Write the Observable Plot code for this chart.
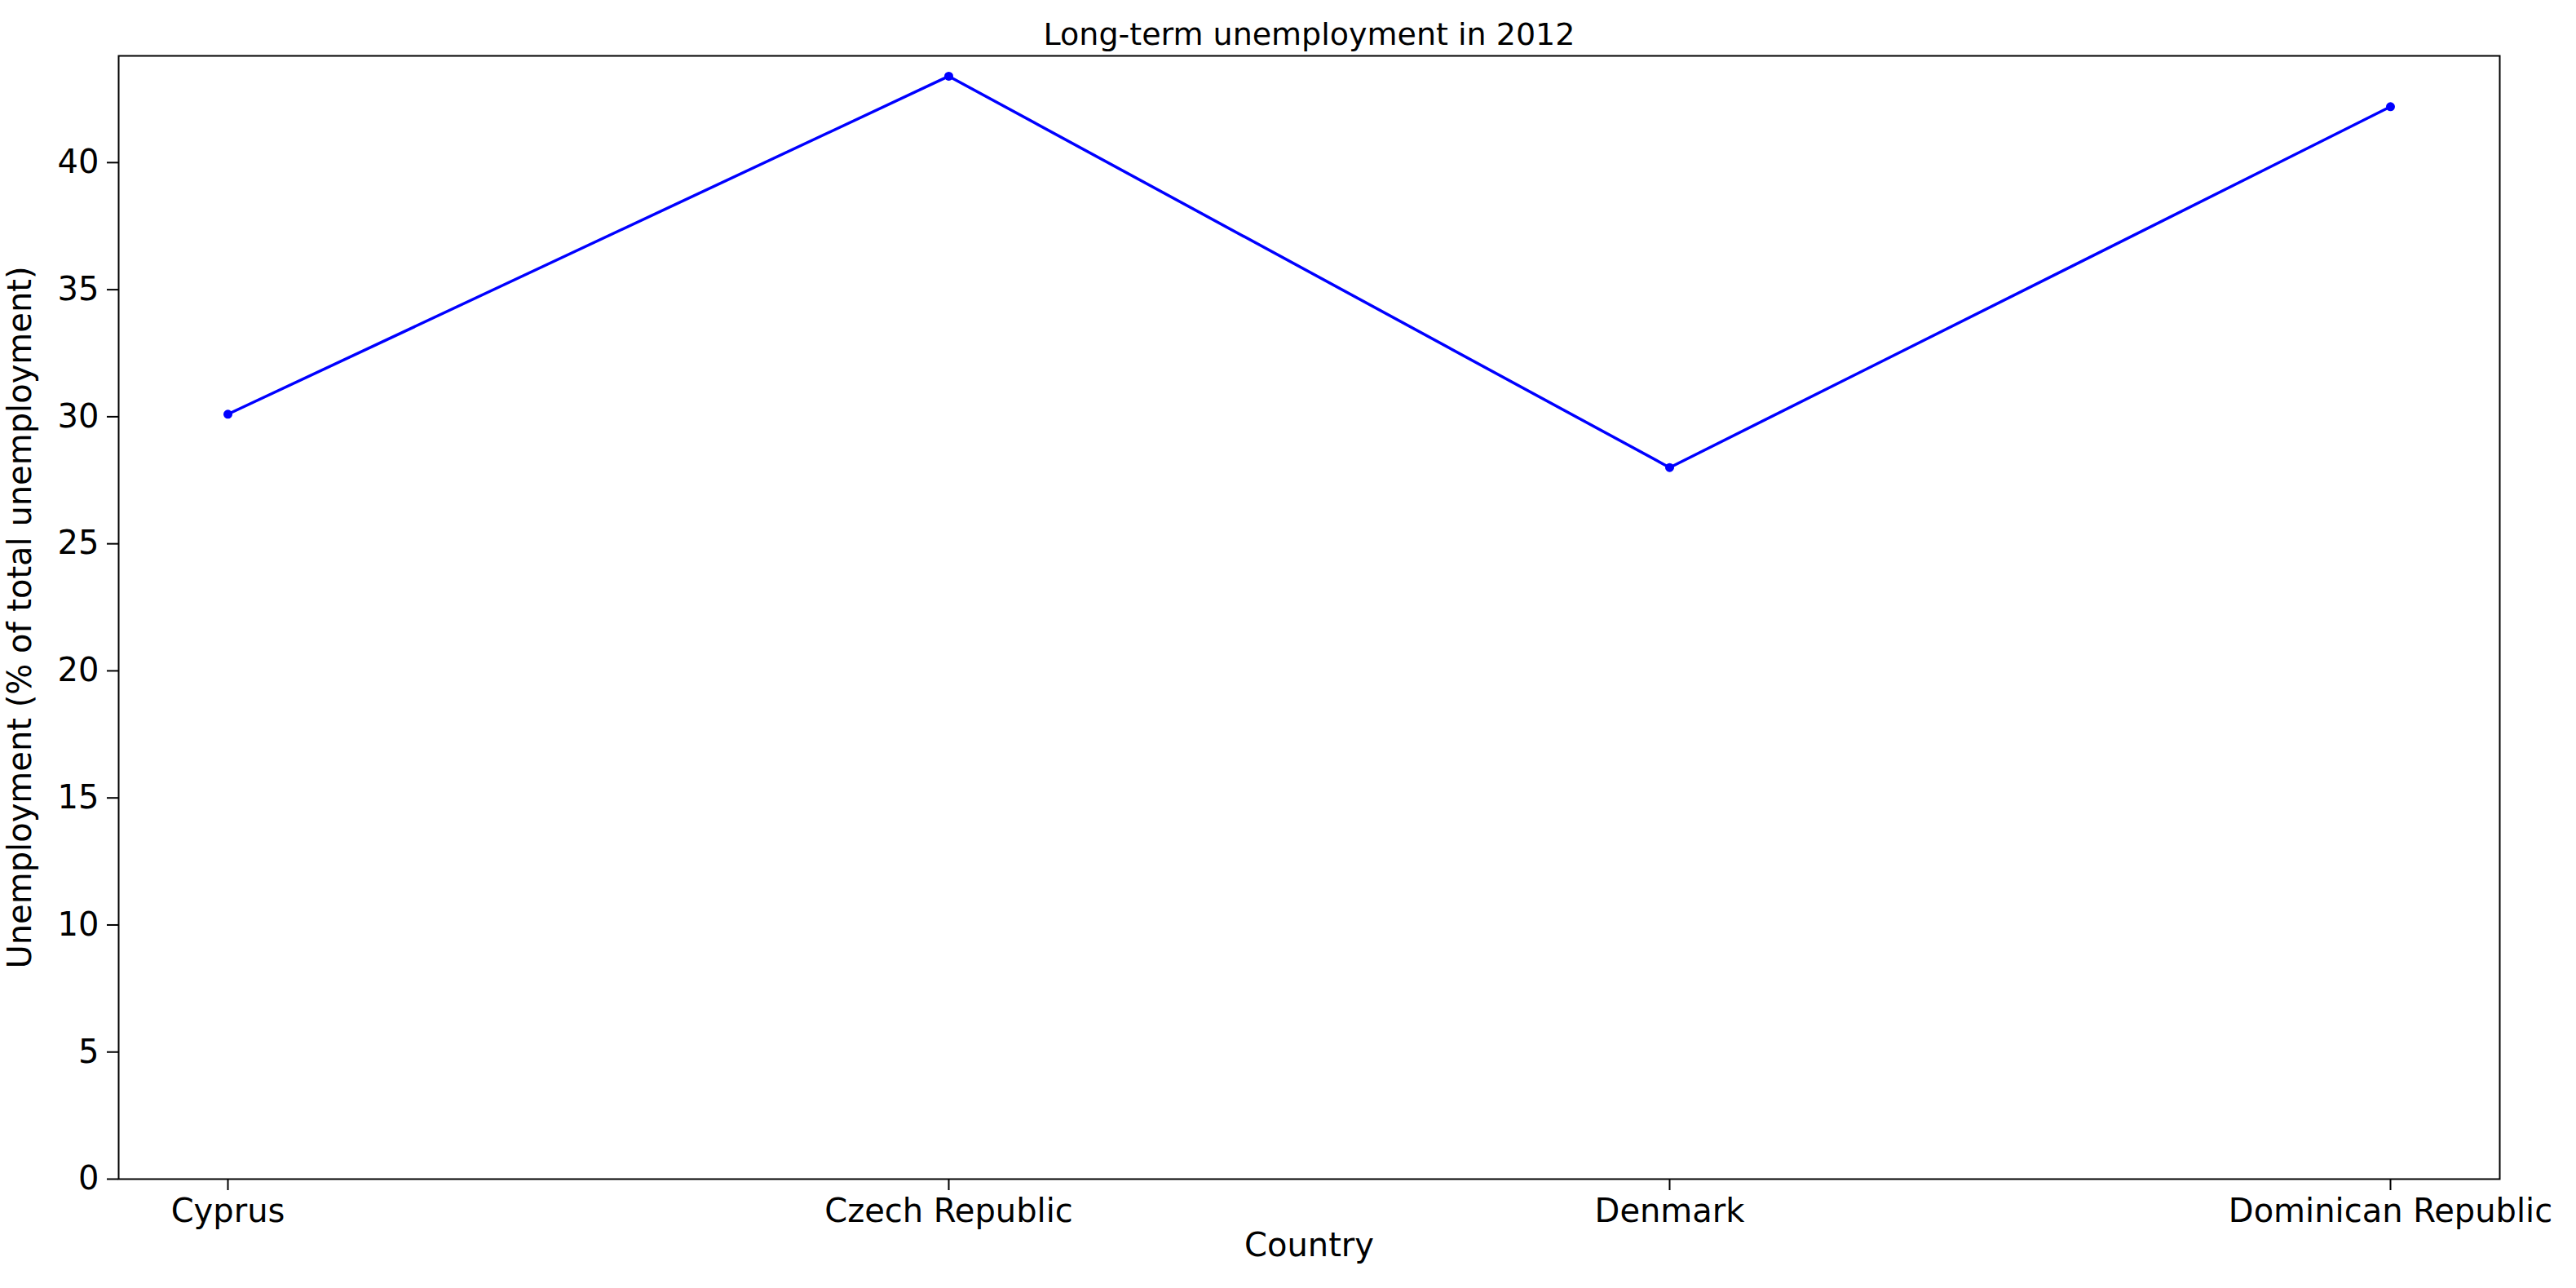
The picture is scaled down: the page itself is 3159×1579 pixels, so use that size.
<!DOCTYPE html>
<html>
<head>
<meta charset="utf-8">
<script src="https://cdn.jsdelivr.net/npm/d3@7"></script>
<script src="https://cdn.jsdelivr.net/npm/@observablehq/plot@0.6"></script>
<style>
  body { margin: 0; background: #fff; }
</style>
</head>
<body>
<main id="chart"></main>
<script>
// data
let countries = ["Cyprus", "Czech Republic", "Denmark", "Dominican Republic"];
let values = [30.1, 43.4, 28.0, 42.2];
let yTicks = [0, 5, 10, 15, 20, 25, 30, 35, 40];

let data = countries.map((c, i) => ({country: c, value: values[i]}));

let chart = Plot.plot({
  width: 3159,
  height: 1579,
  marginTop: 68,
  marginBottom: 134,
  marginLeft: 145,
  marginRight: 94,
  style: {
    fontFamily: "DejaVu Sans",
    fontSize: 40,
    color: "#000",
    background: "#fff"
  },
  x: {
    type: "point",
    domain: countries,
    padding: 0.15,
    label: null
  },
  y: {
    domain: [0, 44.2],
    label: null
  },
  marks: [
    Plot.frame({stroke: "black", strokeWidth: 2}),
    Plot.axisX({tickSize: 14, tickPadding: 10, fontSize: 40, strokeWidth: 2}),
    Plot.axisY({ticks: yTicks, tickSize: 14, tickPadding: 10, fontSize: 40, strokeWidth: 2}),
    Plot.line(data, {x: "country", y: "value", stroke: "blue", strokeWidth: 3.5}),
    Plot.dot(data, {x: "country", y: "value", fill: "blue", r: 5.5}),
    Plot.text(["Long-term unemployment in 2012"], {frameAnchor: "top", dy: -14, lineAnchor: "bottom", fontSize: 38}),
    Plot.text(["Country"], {frameAnchor: "bottom", dy: 94, fontSize: 40}),
    Plot.text(["Unemployment (% of total unemployment)"], {frameAnchor: "left", textAnchor: "middle", dx: -120, rotate: -90, fontSize: 40})
  ]
});

d3.select("#chart").append(() => chart);
</script>
</body>
</html>
